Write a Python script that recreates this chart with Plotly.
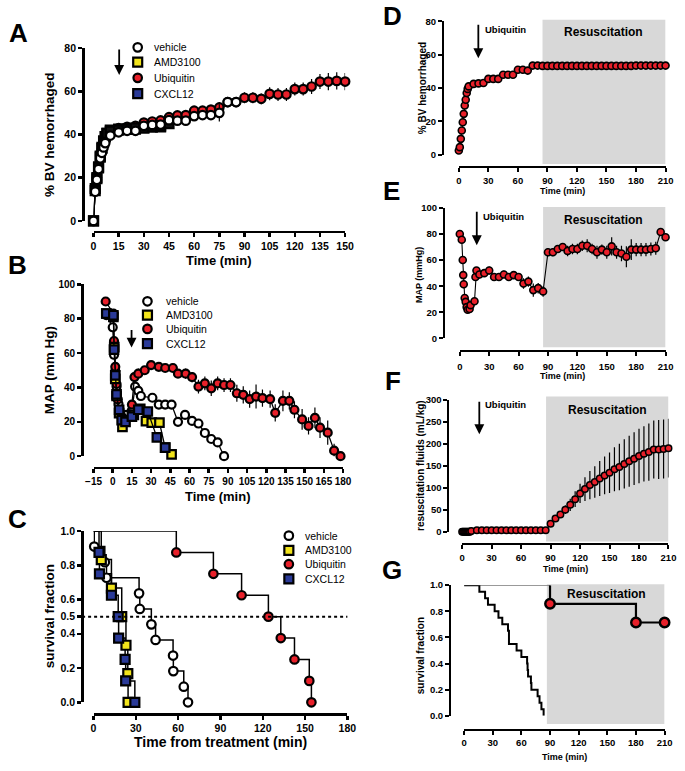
import plotly.graph_objects as go

# ======================= DATA =======================
# Panel A: % blood volume hemorrhaged vs time
A_veh_t = [0, 1, 2, 3, 4, 5, 6, 7, 10, 15, 20, 25, 30, 35, 40, 45, 50, 55, 60, 65, 70, 75, 80, 85]
A_veh_y = [0, 13.5, 19, 24, 29, 31.5, 34, 36, 39.5, 41, 41.7, 41.7, 44, 44.4, 44.6, 46.6, 46.4, 46.4, 48.5, 49, 49, 50, 55, 55]
A_veh_e = [0, 0, 0, 0, 0, 0, 0, 0, 0, 0, 0, 0, 0, 0, 0, 0, 0, 0, 1, 1, 1.5, 4, 2, 1.5]
A_amd_t = [0, 1, 2, 3, 4, 5, 6, 7, 8, 10, 15, 20, 25, 30, 35, 40]
A_amd_y = [0, 15, 20, 25, 30, 34, 37, 39, 40.5, 42, 42.5, 42.5, 42.5, 43, 43.5, 43.5]
A_cxc_t = [0, 1, 2, 3, 4, 5, 6, 7, 8, 10, 15, 20, 25, 30, 35, 40, 45]
A_cxc_y = [0, 14, 19.5, 24.5, 29.5, 33.5, 36.5, 39, 40.5, 41.5, 42, 42.5, 43, 43, 43.5, 44, 45]
A_ubq_t = [0, 1, 2, 3, 4, 5, 6, 7, 8, 10, 15, 20, 25, 30, 35, 40, 45, 50, 55, 60, 65, 70, 75,
           80, 85, 90, 95, 100, 105, 110, 115, 120, 125, 130, 135, 140, 145, 150]
A_ubq_y = [0, 14, 20, 25, 30, 33, 36, 38, 40, 41, 43, 43.5, 44, 45.5, 46, 46.5, 48, 48.8, 49, 51, 51, 51.5, 52.5,
           55, 55, 57, 57, 56.5, 58.8, 58.5, 58.5, 61, 61, 62.2, 64.5, 64.5, 64.8, 64.5]
A_ubq_e = [0, 0, 0, 0, 0, 0, 0, 0, 0, 0, 0, 0, 0, 0, 0, 0, 0, 1, 1, 1.5, 1.5, 2, 2.5,
           2, 2, 2.5, 2.5, 2.5, 3, 3, 3, 3, 3, 3.5, 3.5, 4, 4, 4]

# Panel B: MAP (mm Hg) vs time
B_veh_t = [-5, 0, 1, 2, 3, 4.5, 6, 9, 11, 15, 17.5, 20, 22, 31, 36, 41, 46, 51, 56.5, 62, 67, 72, 77, 82, 87]
B_veh_y = [82, 75, 59, 49.5, 40.5, 30.5, 25, 23, 24, 26.7, 40.5, 38, 35, 34, 30, 30, 30, 20, 24, 20.5, 19, 13.5, 10, 8, 0]
B_amd_t = [-5, 0.5, 1.2, 2, 3, 5, 7.6, 16.5, 21.5, 26, 30.5, 36.5, 41, 46]
B_amd_y = [83, 81, 63.4, 45, 35, 25, 17, 24, 27.5, 20.4, 19.5, 19.5, 5, 1]
B_ubq_t = [-5.5, 0.5, 1, 2, 3, 4, 5, 7, 10, 15, 17, 20, 25, 30, 36, 41, 47, 51, 57, 62, 67, 72, 77, 82, 87,
           92, 97, 102, 107, 112, 117, 123, 127, 133, 138, 142, 148, 153, 158, 162, 168, 173, 178]
B_ubq_y = [90, 83, 67, 52, 42, 33, 27, 23, 21, 30, 46, 48, 50, 53, 52, 51.3, 51.3, 48, 48, 46, 40.5, 42.4, 39.5,
           42.4, 41.4, 41.4, 36.6, 35.7, 33.2, 34.7, 33.8, 33.2, 25.2, 32.2, 32.2, 27, 21.4, 17.6, 22.3, 16.6,
           13.7, 3.2, 0]
B_ubq_e = [0, 0, 0, 0, 0, 0, 0, 0, 0, 2, 3, 3, 2, 2, 2, 2, 2, 2.5, 3, 3, 4, 4, 4.5, 4,
           4, 4, 5, 5, 5, 7, 5, 5, 5, 6, 5, 5, 6, 5, 6, 6, 7, 4, 0]
B_cxc_t = [-5, 0.5, 1, 2, 3, 5, 7, 10, 15, 20, 27.4, 34.5, 41]
B_cxc_y = [83, 82, 62, 47, 36, 27, 21, 20, 23, 27, 26, 11, 5]

# Panel C: Kaplan-Meier survival from treatment
C_veh_t = [0.5, 8, 9.2, 32.3, 32.8, 41, 44, 56.4, 56.6, 64, 67]
C_veh_s = [0.909, 0.818, 0.727, 0.636, 0.545, 0.455, 0.364, 0.273, 0.182, 0.091, 0.0]
C_amd_t = [5.5, 12.7, 20, 23, 24.3, 24.5]
C_amd_s = [0.833, 0.667, 0.5, 0.333, 0.167, 0.0]
C_ubq_t = [58.7, 85, 105, 124, 132.8, 142.5, 153, 154.5]
C_ubq_s = [0.875, 0.75, 0.625, 0.5, 0.375, 0.25, 0.125, 0.0]
C_cxc_t = [3.9, 4.2, 12.7, 17.5, 17.8, 22.4, 22.8, 29.3]
C_cxc_s = [0.875, 0.75, 0.625, 0.5, 0.375, 0.25, 0.125, 0.0]

# Panel D: % BV hemorrhaged (ubiquitin + resuscitation)
D_t = [0, 1, 2, 3, 4, 5, 6, 7, 8, 9, 10, 15, 20, 25, 30, 35, 40, 45, 50, 55, 60, 65, 70, 75, 80, 85, 90,
       95, 100, 105, 110, 115, 120, 125, 130, 135, 140, 145, 150, 155, 160, 165, 170, 175, 180, 185, 190,
       195, 200, 205, 210]
D_y = [2.5, 4.5, 9.5, 14.5, 19.5, 24.5, 29.5, 33, 37, 39.5, 41, 42.5, 42.8, 43, 45.5, 45.5, 45.5, 48, 48,
       48, 51, 51, 50.5, 53.5, 53.5, 53.3, 53.3, 53.3, 53.3, 53.3, 53.3, 53.3, 53.3, 53.3, 53.3, 53.3, 53.3,
       53.3, 53.3, 53.3, 53.3, 53.3, 53.3, 53.3, 53.5, 53.5, 53.5, 53.5, 53.5, 53.5, 53.5]

# Panel E: MAP (mmHg)
E_t = [0, 2, 3, 3.5, 4, 5, 6, 7, 8, 10, 11, 15, 16, 17, 20, 25, 30, 35, 40, 45, 50, 55, 60, 65, 70, 75,
       80, 85, 90, 95, 100, 105, 110, 115, 120, 125, 130, 135, 140, 145, 150, 155, 160, 165, 170, 175,
       180, 185, 190, 195, 200, 205, 210]
E_y = [80, 75.5, 60, 48.5, 41.5, 31, 28, 24, 22, 22.5, 25.5, 28.5, 47, 52, 49, 50, 52, 47, 47, 49, 47,
       48.5, 47, 42, 43.5, 37, 38.5, 36, 66, 66, 68.5, 70, 67, 68.5, 68.5, 71, 71, 68.5, 66, 68, 66, 70.5,
       66, 65, 62.5, 68, 68, 68, 68, 68.5, 69, 81.5, 77.5]
E_e = [2, 2, 2, 3, 3, 2, 2, 2, 2, 2, 2, 2, 3, 2, 3, 3, 3, 3, 3, 3, 3, 3, 3, 4, 4, 5, 4, 4, 3, 3, 3, 3,
       4, 4, 4, 4, 5, 4, 5, 4, 5, 7, 5, 6, 8, 8, 5, 5, 5, 5, 5, 3, 3]

# Panel F: resuscitation fluids (mL/kg)
F_t = [0, 1, 2, 3, 4, 5, 6, 7, 8, 9.3, 15, 20, 25, 30, 35, 40, 45, 50, 55, 60, 65, 70, 75, 80, 85, 90,
       95, 100, 105, 110, 115, 120, 125, 130, 135, 140, 145, 150, 155, 160, 165, 170, 175, 180, 185, 190,
       195, 200, 205, 210]
F_y = [0, 0, 0, 0, 0, 0, 0, 0, 0, 1.5, 3, 3, 3, 3, 3, 3, 3, 3, 3, 3, 3, 3, 3, 3, 3, 18, 30, 39, 50, 61,
       74, 87, 97, 106, 113, 121, 128, 134, 142, 147, 154, 160, 166, 172, 177, 181, 187, 187, 188, 190]
F_e = [0, 0, 0, 0, 0, 0, 0, 0, 0, 0, 0, 0, 0, 0, 0, 0, 0, 0, 0, 0, 0, 0, 0, 0, 0, 3, 5, 7, 10, 14,
       18, 22, 27, 32, 36, 40, 43, 46, 50, 53, 56, 58, 60, 62, 63, 65, 66, 67, 67, 67]

# Panel G: survival (control staircase, ubiquitin group)
G_ctl_t = [0, 16, 22, 25, 32, 36, 40, 46, 47, 55, 60, 66, 66.5, 67, 70, 70.5, 77, 79, 81, 83.3]
G_ctl_s = [1.0, 0.95, 0.9, 0.85, 0.8, 0.75, 0.7, 0.65, 0.55, 0.5, 0.45, 0.4, 0.35, 0.3, 0.25, 0.2,
           0.15, 0.1, 0.05, 0.0]
G_ubq_t = [90, 180, 210]
G_ubq_s = [0.857, 0.714, 0.714]

RESUS_START = {"D": 85, "E": 85, "F": 85.4, "G": 86.7}
RESUS_END = 210

legend_names = ["vehicle", "AMD3100", "Ubiquitin", "CXCL12"]

# ======================= STYLE / GEOMETRY =======================
W, H = 685, 771
FONT = "Liberation Sans, Arial, sans-serif"
RED = "#E8202A"
YEL = "#F2E41C"
BLU = "#2A3A98"
GREY = "#D8D8D8"

panels = {
    "A": dict(xr=(0, 150), xp=(87.7, 345.7), yr=(0, 80), yp=(218.3, 42.7), yline=77, xline=229.3,
              xt=[0, 15, 30, 45, 60, 75, 90, 105, 120, 135, 150], yt=[0, 20, 40, 60, 80]),
    "B": dict(xr=(-15, 180), xp=(87.7, 343.6), yr=(0, 100), yp=(457.3, 282.7), yline=76, xline=469.3,
              xt=[-15, 0, 15, 30, 45, 60, 75, 90, 105, 120, 135, 150, 165, 180], yt=[0, 20, 40, 60, 80, 100]),
    "C": dict(xr=(0, 180), xp=(87.7, 348), yr=(0, 1), yp=(707.3, 533.3), yline=76, xline=719.3,
              xt=[0, 30, 60, 90, 120, 150, 180], yt=[0, 0.2, 0.4, 0.5, 0.6, 0.8, 1.0]),
    "D": dict(xr=(0, 210), xp=(462.3, 674.3), yr=(0, 80), yp=(151, 15.7), yline=446, xline=164,
              xt=[0, 30, 60, 90, 120, 150, 180, 210], yt=[0, 20, 40, 60, 80]),
    "E": dict(xr=(0, 210), xp=(463.3, 674.3), yr=(0, 100), yp=(337.7, 205), yline=447, xline=350,
              xt=[0, 30, 60, 90, 120, 150, 180, 210], yt=[0, 20, 40, 60, 80, 100]),
    "F": dict(xr=(0, 210), xp=(465.7, 677.3), yr=(0, 300), yp=(534, 400), yline=451.7, xline=546.7,
              xt=[0, 30, 60, 90, 120, 150, 180, 210], yt=[0, 50, 100, 150, 200, 250, 300]),
    "G": dict(xr=(0, 210), xp=(467.7, 673.3), yr=(0, 1), yp=(721, 588.3), yline=453.3, xline=735,
              xt=[0, 30, 60, 90, 120, 150, 180, 210], yt=[0, 0.2, 0.4, 0.6, 0.8, 1.0]),
}
order = ["A", "B", "C", "D", "E", "F", "G"]

fig = go.Figure()
layout_axes = {}
for k, name in enumerate(order, start=1):
    g = panels[name]
    sfx = "" if k == 1 else str(k)
    g["xa"], g["ya"] = "x" + sfx, "y" + sfx
    small = name in "DEFG"
    lw = 2 if small else 2.5
    fs = 9.5 if small else 10.5
    if name == "B":
        fs = 10
    tf = dict(family=FONT, size=fs, color="black", weight="bold")
    ylab = None
    if name in "CG":
        ylab = ["%.1f" % v for v in g["yt"]]
    layout_axes["xaxis" + sfx] = dict(
        domain=[g["xp"][0] / W, g["xp"][1] / W], range=list(g["xr"]), anchor="free",
        position=1 - g["xline"] / H, showline=True, linecolor="black", linewidth=lw,
        ticks="outside", ticklen=4, tickwidth=lw, tickcolor="black", tickvals=g["xt"],
        tickfont=tf, showgrid=False, zeroline=False, fixedrange=True, tickangle=0,
        ticklabelstandoff=(3 if name == "E" else 0))
    yd = dict(
        domain=[1 - g["yp"][0] / H, 1 - g["yp"][1] / H], range=list(g["yr"]), anchor="free",
        position=g["yline"] / W, showline=True, linecolor="black", linewidth=lw,
        ticks="outside", ticklen=4, tickwidth=lw, tickcolor="black", tickvals=g["yt"],
        tickfont=tf, showgrid=False, zeroline=False, fixedrange=True, tickangle=0)
    if ylab:
        yd["ticktext"] = ylab
    layout_axes["yaxis" + sfx] = yd

# overlay pixel-space axes for the legend glyphs
layout_axes["xaxis8"] = dict(domain=[0, 1], range=[0, W], visible=False, fixedrange=True, anchor="y8")
layout_axes["yaxis8"] = dict(domain=[0, 1], range=[H, 0], visible=False, fixedrange=True, anchor="x8")


def series(name, x, y, symbol, fill, size, mlw, err=None, mode="lines+markers", lcolor="black",
           lwidth=1.3, shape="linear", axes=None):
    xa, ya = axes if axes else (panels[name]["xa"], panels[name]["ya"])
    kw = {}
    if err is not None:
        kw["error_y"] = dict(type="data", array=err, color="black", thickness=1.2, width=0)
    fig.add_trace(go.Scatter(
        x=x, y=y, mode=mode, xaxis=xa, yaxis=ya, cliponaxis=False, showlegend=False,
        line=dict(color=lcolor, width=lwidth, shape=shape),
        marker=dict(symbol=symbol, size=size, color=fill, line=dict(color="black", width=mlw)),
        hoverinfo="skip", **kw))


# ---- Panel A ----
series("A", A_ubq_t, A_ubq_y, "circle", RED, 8.5, 2.2, err=A_ubq_e)
series("A", A_amd_t, A_amd_y, "square", "#111111", 9, 2.2)
series("A", A_cxc_t, A_cxc_y, "square", "#111111", 9, 2.2)
series("A", A_veh_t, A_veh_y, "circle", "white", 8.5, 2.2, err=A_veh_e)

# ---- Panel B ----
series("B", B_veh_t, B_veh_y, "circle", "white", 8, 2.2)
series("B", B_ubq_t, B_ubq_y, "circle", RED, 8, 2.2, err=B_ubq_e)
series("B", B_amd_t, B_amd_y, "square", YEL, 8.5, 2.2)
series("B", B_cxc_t, B_cxc_y, "square", BLU, 8.5, 2.2)

# ---- Panel C (step survival curves) ----
C_groups = [(C_veh_t, C_veh_s, "circle", "white"), (C_amd_t, C_amd_s, "square", YEL),
            (C_ubq_t, C_ubq_s, "circle", RED), (C_cxc_t, C_cxc_s, "square", BLU)]
for tt, ss, sym, col in C_groups:
    series("C", [0] + tt, [1.0] + ss, "circle", "black", 0, 0, mode="lines", lwidth=1.5, shape="hv")
for tt, ss, sym, col in C_groups:
    series("C", tt, ss, sym, col, 8.5 if sym == "circle" else 9, 2.2, mode="markers")

# ---- Panel D/E/F ----
series("D", D_t, D_y, "circle", RED, 7, 1.6, lwidth=1.1)
series("E", E_t, E_y, "circle", RED, 7, 1.6, err=E_e, lwidth=1.1)
series("F", F_t, F_y, "circle", RED, 6.5, 1.5, err=F_e, lwidth=1.1)

# ---- Panel G ----
series("G", [0, G_ubq_t[0]], [1.0, 1.0], "circle", "black", 0, 0, mode="lines", lcolor="#777777", lwidth=1.5)
series("G", G_ctl_t, G_ctl_s, "circle", "black", 0, 0, mode="lines", lwidth=2, shape="hv")
series("G", [G_ubq_t[0]] + G_ubq_t, [1.0] + G_ubq_s, "circle", "black", 0, 0, mode="lines", lwidth=2.2,
       shape="hv")
series("G", G_ubq_t, G_ubq_s, "circle", RED, 9.5, 2.4, mode="markers")

# ---- Manual legends (glyphs on pixel overlay) ----
leg_fills = [("circle", "white"), ("square", YEL), ("circle", RED), ("square", BLU)]
leg_pos = {"A": (133, 148, [42, 57, 73, 89]), "B": (143, 160, [300, 314, 328, 343]),
           "C": (288, 302, [538, 553, 567, 582])}
annotations = []
for name, (mx, tx, rows) in leg_pos.items():
    for (sym, col), ry, lab in zip(leg_fills, rows, legend_names):
        series(name, [mx], [ry], sym, col, 8.5 if sym == "circle" else 9, 2.2, mode="markers",
               axes=("x8", "y8"))
        annotations.append(dict(x=tx / W, y=1 - ry / H, xref="paper", yref="paper", text=lab,
                                showarrow=False, xanchor="left", yanchor="middle",
                                font=dict(family=FONT, size=10.5, color="black")))

# ---- Shapes ----
shapes = []
resus_y = {"D": (14, 160.5), "E": (204.3, 346.7), "F": (396.7, 544), "G": (587.3, 729.3)}
for name, (y0, y1) in resus_y.items():
    g = panels[name]
    shapes.append(dict(type="rect", xref=g["xa"], yref="paper", x0=RESUS_START[name], x1=RESUS_END,
                       y0=1 - y1 / H, y1=1 - y0 / H, fillcolor=GREY, line=dict(width=0), layer="below"))
shapes.append(dict(type="line", xref="paper", yref=panels["C"]["ya"], x0=76 / W, x1=348 / W, y0=0.5, y1=0.5,
                   line=dict(color="black", width=2, dash="dot")))


def txt(x, y, s, size, bold=True, angle=0, xanchor="center"):
    annotations.append(dict(x=x / W, y=1 - y / H, xref="paper", yref="paper", text=s, showarrow=False,
                            xanchor=xanchor, yanchor="middle", textangle=angle,
                            font=dict(family=FONT, size=size, color="black",
                                      weight="bold" if bold else "normal")))


# panel letters
for L, (x, y) in {"A": (10.5, 27), "B": (10, 263.5), "C": (10, 521), "D": (394, 10),
                  "E": (393.5, 188), "F": (394.5, 381), "G": (393.5, 573)}.items():
    txt(x, y, L, 26)

# axis titles
txt(43, 130, "% BV hemorrhaged", 13.5, angle=-90)
txt(216.7, 259, "Time (min)", 13)
txt(42, 370, "MAP (mm Hg)", 13.5, angle=-90)
txt(215.6, 498, "Time (min)", 13)
txt(42, 620, "survival fraction", 13.5, angle=-90)
txt(218, 748, "Time from treatment (min)", 14)
txt(425, 83, "% BV hemorrhaged", 10, angle=-90)
txt(568.3, 188, "Time (min)", 9)
txt(421.7, 273, "MAP (mmHg)", 9, angle=-90)
txt(568.8, 376, "Time (min)", 9)
txt(423, 466.7, "resuscitation fluids (mL/kg)", 10, angle=-90)
txt(571.5, 572, "Time (min)", 9)
txt(423, 660, "survival fraction", 10, angle=-90)
txt(570.5, 762.7, "Time (min)", 9)

# Resuscitation and Ubiquitin labels
txt(610.7, 26, "Resuscitation", 12)
txt(610.7, 217.7, "Resuscitation", 12)
txt(615, 410, "Resuscitation", 12)
txt(614, 597.3, "Resuscitation", 12)
txt(486.7, 24, "Ubiquitin", 9.5, xanchor="left")
txt(485, 214, "Ubiquitin", 9.5, xanchor="left")
txt(487.3, 405, "Ubiquitin", 9.5, xanchor="left")

# arrows
for (x, yh, length) in [(114, 70, 27), (126.7, 347, 19), (482.3, 53, 35), (480.7, 243, 35), (483.3, 435, 34)]:
    annotations.append(dict(x=x / W, y=1 - yh / H, xref="paper", yref="paper", text="", showarrow=True,
                            ax=0, ay=-length, arrowhead=2, arrowsize=1.1, arrowwidth=1.8,
                            arrowcolor="black"))

fig.update_layout(width=W, height=H, margin=dict(l=0, r=0, t=0, b=0), autosize=False,
                  paper_bgcolor="white", plot_bgcolor="rgba(0,0,0,0)", showlegend=False,
                  shapes=shapes, annotations=annotations, font=dict(family=FONT), **layout_axes)

fig.write_html("out.html", config={"displayModeBar": False, "staticPlot": True},
               post_script="document.body.style.margin='0';document.body.style.overflow='hidden';")
